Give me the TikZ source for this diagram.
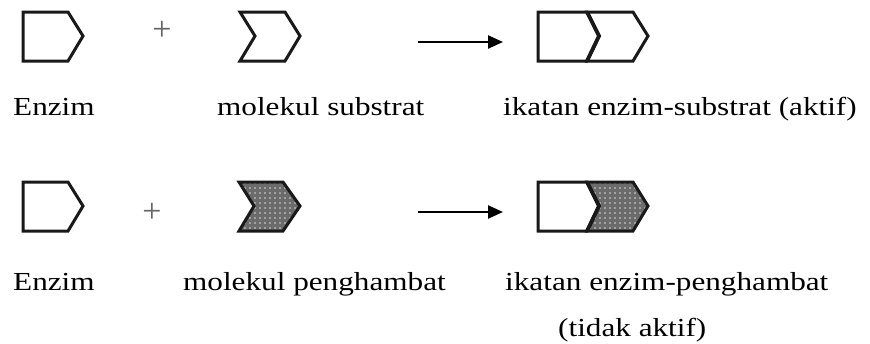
\documentclass[tikz,border=0pt]{standalone}
\usepackage{fontspec}
\setmainfont{Liberation Serif}
\usetikzlibrary{arrows.meta,patterns.meta}
\tikzset{
  shapeline/.style={draw=black!90, line width=3pt, line join=miter, fill=white},
  inhib/.style={draw=black!90, line width=3pt, line join=miter,
    preaction={fill=black!58},
    pattern={Dots[distance=5pt,radius=0.8pt]}, pattern color=white!85!black},
  joint/.style={draw=black!90, line width=3.8pt, line join=miter},
  txt/.style={anchor=base west, inner sep=0pt, font=\fontsize{26}{30}\selectfont, text=black},
  plus/.style={inner sep=0pt, font=\fontsize{34}{38}\selectfont, text=black!60},
  react/.style={draw=black, line width=2.4pt, -{Triangle[length=15pt,width=13pt]}}
}
\newcommand{\wide}[1]{\scalebox{1.2}[1]{#1}}
\begin{document}
\begin{tikzpicture}[x=1pt,y=-1pt]
  \useasboundingbox (0,0) rectangle (870,343);

  % ---------- row 1: enzyme + substrate -> active complex ----------
  \draw[shapeline] (23,12) -- (68,12) -- (83,36) -- (68,61) -- (23,61) -- cycle;
  \node[plus] (p1) at (162,31) {+};
  \draw[shapeline] (240,12) -- (285,12) -- (300,36) -- (285,61) -- (240,61) -- (255,36) -- cycle;
  \coordinate (a1s) at (418,42);
  \coordinate (a1e) at (503,42);
  \draw[react] (a1s) -- (a1e);
  \draw[shapeline] (587,12) -- (633,12) -- (648,36) -- (633,61) -- (587,61) -- (599,36) -- cycle;
  \draw[shapeline] (538,12) -- (587,12) -- (599,36) -- (587,61) -- (538,61) -- cycle;
  \draw[joint] (587,12) -- (599,36) -- (587,61);

  \node[txt] (e1) at (13,115) {\wide{Enzim}};
  \node[txt] (s1) at (217,115) {\wide{molekul substrat}};
  \node[txt] (c1) at (503,115) {\wide{ikatan enzim-substrat (aktif)}};

  % ---------- row 2: enzyme + inhibitor -> inactive complex ----------
  \draw[shapeline] (23,182) -- (68,182) -- (83,206) -- (68,231) -- (23,231) -- cycle;
  \node[plus] (p2) at (152,213) {+};
  \draw[inhib] (239,182) -- (283,182) -- (300,206) -- (283,231) -- (239,231) -- (254,206) -- cycle;
  \coordinate (a2s) at (418,212);
  \coordinate (a2e) at (503,212);
  \draw[react] (a2s) -- (a2e);
  \draw[shapeline] (538,182) -- (587,182) -- (599,206) -- (587,231) -- (538,231) -- cycle;
  \draw[inhib] (587,182) -- (633,182) -- (648,206) -- (633,231) -- (587,231) -- (599,206) -- cycle;
  \draw[joint] (587,182) -- (599,206) -- (587,231);

  \node[txt] (e2) at (13,290) {\wide{Enzim}};
  \node[txt] (s2) at (183,290) {\wide{molekul penghambat}};
  \node[txt] (c2) at (505,290) {\wide{ikatan enzim-penghambat}};
  \node[txt] (c2b) at (558,336) {\wide{(tidak aktif)}};
\end{tikzpicture}
\end{document}
